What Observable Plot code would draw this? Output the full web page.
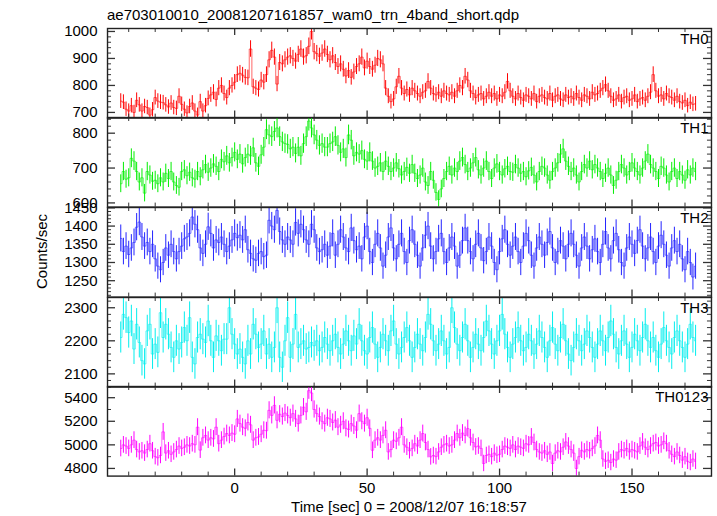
<!DOCTYPE html>
<html><head><meta charset="utf-8">
<script src="https://cdn.jsdelivr.net/npm/d3@7"></script>
<script src="https://cdn.jsdelivr.net/npm/@observablehq/plot@0.6"></script>
<style>
body{margin:0;background:#fff;font-family:"Liberation Sans",Arial,sans-serif;}
#wrap{position:relative;width:717px;height:516px;overflow:hidden;background:#fff;}
.lbl{position:absolute;font-size:15px;line-height:15px;color:#000;white-space:nowrap;}
.panel{position:absolute;left:0;}
</style></head><body>
<div id="wrap"></div>
<script>
// ---- data (1-s bins, first bin centred at binStart) ----
const binStart = -43, binWidth = 1;
const th0 = [742,738,712,705,725,700,745,728,705,722, 718,690,710,755,742,738,736,728,720,735,
 718,715,760,730,712,698,722,735,705,690, 740,705,725,752,765,775,748,790,800,770,
 755,790,800,812,840,845,838,830,828,935, 795,790,785,820,812,840,895,930,905,805,
 885,880,895,905,910,900,890,915,935,905, 910,945,1000,925,918,908,920,935,915,895,
 910,885,870,880,860,835,855,830,850,870, 880,905,865,890,870,860,875,900,895,880,
 790,760,740,750,795,834,790,770,785,765, 790,780,770,760,775,780,815,790,770,765,
 775,760,780,770,765,775,760,780,800,790, 834,820,780,770,755,765,770,750,760,775,
 760,770,750,765,760,775,815,780,760,750, 770,755,745,765,760,750,770,740,760,765,
 755,750,770,745,760,765,750,745,765,755, 760,750,770,755,745,765,760,750,775,765,
 770,780,790,803,780,760,745,750,765,740, 755,760,745,750,765,740,750,755,745,760,
 775,840,780,760,765,750,770,760,755,745, 760,740,735,745,725,738,730,732];
const th1 = [655,690,668,672,728,720,690,660,672,628, 690,680,662,665,655,672,660,685,670,690,
 660,650,645,690,695,678,688,672,668,690, 675,695,710,688,700,712,705,690,725,718,
 735,715,730,745,725,740,712,730,740,735, 758,715,705,738,760,810,795,790,805,815,
 790,775,770,768,755,760,742,760,735,770, 790,835,815,795,780,765,770,760,760,770,
 775,790,765,745,755,730,795,780,735,745, 740,750,725,720,745,720,700,705,715,690,
 720,705,690,700,715,698,680,690,702,685, 710,685,670,680,700,660,650,690,665,630,
 610,640,670,690,705,680,700,690,720,730, 710,690,700,715,730,695,680,700,720,690,
 670,700,712,690,680,698,705,690,688,710, 700,685,690,675,692,702,680,660,690,705,
 700,680,665,690,700,715,740,755,720,705, 690,700,680,660,690,710,700,720,695,710,
 700,690,670,685,700,680,650,665,690,710, 700,680,690,715,700,690,680,700,720,740,
 710,700,690,670,705,700,680,660,690,700, 670,690,680,665,695,680,700,690];
const th2 = [1366,1330,1345,1322,1340,1355,1397,1411,1370,1345, 1355,1330,1350,1310,1290,1280,1300,1340,1320,1350,
 1330,1310,1330,1345,1365,1370,1380,1425,1405,1390, 1340,1325,1350,1398,1380,1340,1362,1355,1370,1350,
 1330,1345,1362,1380,1368,1375,1362,1390,1335,1325, 1310,1306,1325,1330,1316,1320,1416,1400,1390,1443,
 1385,1362,1350,1370,1362,1350,1410,1380,1405,1390, 1362,1350,1405,1390,1340,1330,1335,1350,1320,1345,
 1380,1320,1350,1390,1370,1340,1330,1395,1360,1335, 1345,1310,1370,1400,1330,1300,1350,1380,1340,1290,
 1320,1370,1395,1340,1310,1350,1380,1330,1300,1360, 1390,1350,1320,1290,1340,1375,1400,1345,1310,1330,
 1365,1380,1330,1300,1340,1370,1345,1290,1320,1360, 1395,1360,1330,1310,1350,1380,1340,1305,1330,1370,
 1345,1300,1280,1330,1365,1390,1350,1320,1345,1370, 1330,1300,1345,1380,1360,1320,1290,1340,1370,1350,
 1320,1355,1385,1340,1300,1330,1360,1345,1310,1350, 1380,1350,1320,1290,1340,1370,1345,1310,1335,1365,
 1330,1300,1350,1385,1340,1310,1360,1380,1335,1300, 1290,1340,1370,1350,1325,1360,1390,1345,1310,1340,
 1370,1330,1300,1345,1375,1350,1320,1290,1340,1360, 1330,1350,1310,1280,1330,1300,1260,1290];
const th3 = [2210,2280,2270,2225,2260,2175,2250,2195,2140,2130, 2230,2250,2160,2190,2165,2285,2210,2250,2220,2180,
 2150,2200,2175,2195,2240,2200,2270,2150,2130,2210, 2220,2205,2195,2260,2200,2150,2215,2200,2170,2205,
 2205,2300,2220,2190,2160,2175,2150,2130,2200,2160, 2250,2220,2180,2190,2230,2160,2190,2150,2180,2300,
 2150,2120,2200,2270,2150,2190,2280,2180,2190,2200, 2175,2180,2195,2185,2200,2170,2180,2210,2190,2170,
 2200,2220,2180,2160,2190,2230,2200,2170,2215,2190, 2250,2200,2170,2160,2210,2240,2190,2150,2180,2220,
 2200,2170,2230,2260,2190,2160,2180,2210,2240,2200, 2150,2180,2220,2190,2170,2210,2280,2250,2200,2170,
 2190,2230,2200,2160,2180,2300,2240,2190,2170,2210, 2250,2200,2150,2180,2220,2190,2170,2210,2260,2230,
 2190,2160,2200,2230,2280,2220,2180,2150,2190,2210, 2240,2200,2170,2180,2220,2200,2160,2190,2230,2210,
 2180,2150,2200,2240,2190,2170,2210,2250,2200,2160, 2140,2180,2220,2200,2170,2190,2230,2210,2180,2150,
 2190,2230,2200,2170,2210,2260,2220,2180,2160,2200, 2230,2190,2150,2180,2220,2200,2170,2210,2250,2200,
 2180,2210,2170,2150,2190,2240,2200,2180,2160,2210, 2230,2200,2180,2150,2190,2250,2210,2200];
const th0123 = [4969,5000,4990,4970,5000,5040,4960,4940,4950,4930, 4960,5010,4950,4900,4890,4910,5110,4930,4950,4920,
 4940,4960,4990,4970,4980,5000,4990,5010,5000,5150, 4955,5060,5080,5040,5060,5050,5150,5010,5040,5070,
 5096,5080,5100,5090,5220,5180,5150,5140,5190,5170, 5040,5060,5067,5090,5124,5120,5293,5250,5335,5208,
 5260,5240,5270,5250,5230,5265,5220,5180,5250,5320, 5280,5460,5440,5300,5265,5240,5200,5180,5230,5220,
 5190,5210,5150,5170,5200,5140,5130,5180,5160,5124, 5265,5200,5180,5230,5140,4954,5040,5060,5040,5080,
 5124,4940,4960,5040,5030,5060,5150,5000,4980,4950, 4970,5010,4990,5040,5096,5020,4960,4898,4910,4900,
 4940,4980,5000,5010,4990,5000,5040,5096,5060,5100, 5080,5138,5060,5020,4982,4990,4970,4842,4910,4920,
 4900,4930,4912,4920,4960,4990,4980,4970,5000,4960, 4990,4980,4970,5010,5000,5067,5020,4960,4940,4930,
 4950,4920,4940,4842,4930,4950,4940,4980,5025,4990, 4960,4930,4800,4900,4954,4940,4960,4950,4970,4990,
 5080,5040,4880,4860,4870,4850,4880,4870,4940,4960, 4950,4970,4940,4960,4950,4940,4990,5025,4980,4960,
 4990,5010,5020,4990,5000,5030,5010,4950,4920,4900, 4940,4910,4870,4900,4860,4850,4880,4860];

const bandNames = ["TH0","TH1","TH2","TH3","TH0123"];
const th0Ticks = [700,800,900,1000];
const th1Ticks = [600,700,800];
const th2Ticks = [1250,1300,1350,1400,1450];
const th3Ticks = [2100,2200,2300];
const th0123Ticks = [4800,5000,5200,5400];
const xTicks = [0,50,100,150];
const titleText = "ae703010010_20081207161857_wam0_trn_4band_short.qdp";
const xLabel = "Time [sec] 0 = 2008/12/07 16:18:57";
const yLabel = "Counts/sec";

// ---- layout / styles ----
const W = 717, ML = 107, MR = 6, TOP = 27.7, PH = 89.6;
const PW = W - ML - MR;
const xDomain = [-48, 180];
const panels = [
  {values: th0, ticks: th0Ticks, minor: 20, domain: [679, 1011], color: "#ff0000"},
  {values: th1, ticks: th1Ticks, minor: 20, domain: [588, 845], color: "#00ee00"},
  {values: th2, ticks: th2Ticks, minor: 10, domain: [1205, 1451], color: "#2222ff"},
  {values: th3, ticks: th3Ticks, minor: 20, domain: [2060, 2331], color: "#00eeee"},
  {values: th0123, ticks: th0123Ticks, minor: 100, domain: [4735, 5495], color: "#ff00ff"}
];
const xMinor = d3.range(-40, 180, 10).filter(v => !xTicks.includes(v));
const TICK = "#333";
const wrap = document.getElementById("wrap");

panels.forEach((p, i) => {
  const last = i === panels.length - 1;
  const data = p.values.map((v, j) => ({t: binStart + j * binWidth, v, e: Math.sqrt(v)}));
  const yMinor = d3.range(Math.ceil(p.domain[0] / p.minor) * p.minor, p.domain[1], p.minor).filter(v => !p.ticks.includes(v));
  const inside = p.ticks.filter(v => v > p.domain[0] && v < p.domain[1]);
  const H = PH + (last ? 40 : 0);
  const svg = Plot.plot({
    width: W, height: H,
    marginLeft: ML, marginRight: MR, marginTop: 0, marginBottom: last ? 40 : 0,
    style: {background: "transparent", overflow: "visible", fontFamily: "'Liberation Sans', Arial, sans-serif", fontSize: "15px", color: "#000"},
    x: {domain: xDomain, axis: null},
    y: {domain: p.domain, axis: null},
    marks: [
      Plot.line(data, {x: "t", y: "v", curve: "step", stroke: p.color, strokeWidth: 1, strokeOpacity: 0.6, clip: true}),
      Plot.ruleX(data, {x: "t", y1: d => d.v - d.e, y2: d => d.v + d.e, stroke: p.color, strokeWidth: 1, clip: true}),
      // x ticks (inward, top and bottom)
      Plot.ruleX(xTicks, {x: d => d, insetBottom: PH - 7, stroke: TICK, strokeWidth: 1.3}),
      Plot.ruleX(xTicks, {x: d => d, insetTop: PH - 7, stroke: TICK, strokeWidth: 1.3}),
      Plot.ruleX(xMinor, {x: d => d, insetBottom: PH - 4, stroke: TICK}),
      Plot.ruleX(xMinor, {x: d => d, insetTop: PH - 4, stroke: TICK}),
      // y ticks (inward, left and right)
      Plot.ruleY(inside, {y: d => d, insetRight: PW - 8, stroke: TICK, strokeWidth: 1.3}),
      Plot.ruleY(inside, {y: d => d, insetLeft: PW - 8, stroke: TICK, strokeWidth: 1.3}),
      Plot.ruleY(yMinor, {y: d => d, insetRight: PW - 4, stroke: TICK}),
      Plot.ruleY(yMinor, {y: d => d, insetLeft: PW - 4, stroke: TICK}),
      Plot.axisY(p.ticks, {anchor: "left", tickSize: 0, tickPadding: 10, label: null, fill: "#000", tickFormat: d => String(d)}),
      last ? Plot.axisX(xTicks, {anchor: "bottom", tickSize: 0, tickPadding: 6, label: null, fill: "#000", tickFormat: d => String(d)}) : null,
      Plot.frame({stroke: "#222", strokeWidth: 1.4}),
      Plot.text([bandNames[i]], {frameAnchor: "top-right", dx: -3, dy: 5, fill: "#000", fontSize: 15})
    ]
  });
  svg.classList.add("panel");
  svg.style.top = (TOP + i * PH) + "px";
  wrap.appendChild(svg);
});

function addLabel(text, css) {
  const d = document.createElement("div");
  d.className = "lbl";
  d.textContent = text;
  Object.assign(d.style, css);
  wrap.appendChild(d);
}
addLabel(titleText, {left: ML + "px", top: "7.3px"});
addLabel(xLabel, {left: (ML + PW / 2 - 200) + "px", width: "400px", textAlign: "center", top: "499.3px"});
addLabel(yLabel, {left: "-59px", top: (TOP + 2.5 * PH - 7.5) + "px", width: "200px", height: "15px", textAlign: "center", transform: "rotate(-90deg)"});
</script>
</body></html>
